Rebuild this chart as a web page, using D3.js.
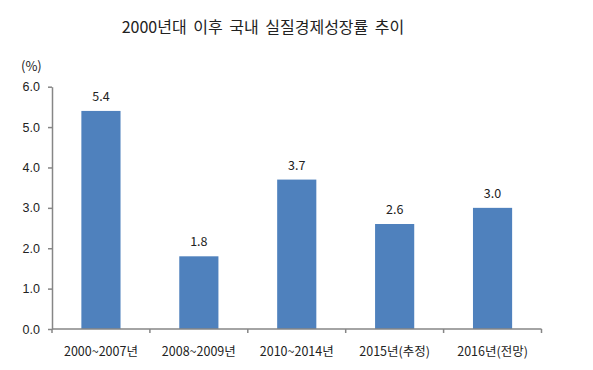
<!DOCTYPE html>
<html>
<head>
<meta charset="utf-8">
<script src="https://cdn.jsdelivr.net/npm/d3@7"></script>
<style>
  body { margin: 0; background: #fff; }
  svg { display: block; font-family: "Noto Sans CJK KR", "Noto Sans", sans-serif; }
</style>
</head>
<body>
<svg id="chart" width="593" height="370"></svg>
<script>
const categories = ['2000~2007년', '2008~2009년', '2010~2014년', '2015년(추정)', '2016년(전망)'];
const values = [5.4, 1.8, 3.7, 2.6, 3.0];
const yTicks = [0, 1, 2, 3, 4, 5, 6];

const svg = d3.select("#chart");

const plotLeft = 52, plotRight = 541.5, plotTop = 86.7, plotBottom = 329;

const x = d3.scaleBand()
  .domain(categories)
  .range([plotLeft, plotRight])
  .paddingInner(0.6)
  .paddingOuter(0.3);

const y = d3.scaleLinear()
  .domain([0, 6])
  .range([plotBottom, plotTop]);

// title
svg.append("text")
  .attr("x", 263)
  .attr("y", 33)
  .attr("text-anchor", "middle")
  .attr("font-size", 16)
  .attr("word-spacing", 3)
  .attr("fill", "#222")
  .text("2000년대 이후 국내 실질경제성장률 추이");

svg.append("text")
  .attr("x", 21)
  .attr("y", 71)
  .attr("font-size", 13)
  .attr("fill", "#222")
  .text("(%)");

// y axis
const yAxis = svg.append("g")
  .attr("transform", "translate(" + plotLeft + ",0)")
  .call(d3.axisLeft(y).tickValues(yTicks).tickFormat(d3.format(".1f")).tickSize(4).tickSizeOuter(0));
yAxis.select(".domain").attr("stroke", "#868686").attr("stroke-width", 1.5);
yAxis.selectAll(".tick line").attr("stroke", "#868686").attr("stroke-width", 1.5);
yAxis.selectAll(".tick text")
  .attr("font-size", 12.5)
  .attr("font-family", "inherit")
  .attr("fill", "#222")
  .attr("x", -12);

// bars
svg.append("g").selectAll("rect")
  .data(values)
  .join("rect")
  .attr("x", (d, i) => x(categories[i]))
  .attr("y", d => y(d))
  .attr("width", x.bandwidth())
  .attr("height", d => plotBottom - y(d))
  .attr("fill", "#4F81BD");

svg.append("g").selectAll("text")
  .data(values)
  .join("text")
  .attr("x", (d, i) => x(categories[i]) + x.bandwidth() / 2)
  .attr("y", d => y(d) - 10)
  .attr("text-anchor", "middle")
  .attr("font-size", 12.5)
  .attr("fill", "#222")
  .text(d => d3.format(".1f")(d));

// x axis
const xg = svg.append("g").attr("transform", "translate(0," + plotBottom + ")");
xg.append("line")
  .attr("x1", plotLeft).attr("x2", plotRight)
  .attr("stroke", "#868686")
  .attr("stroke-width", 1.5);
const step = x.step();
const edges = categories.map(c => x(c) - step * x.paddingInner() / 2).concat([plotRight]);
xg.selectAll(".edge")
  .data(edges)
  .join("line")
  .attr("class", "edge")
  .attr("x1", d => d).attr("x2", d => d)
  .attr("y1", 0).attr("y2", 4)
  .attr("stroke", "#868686")
  .attr("stroke-width", 1.5);
xg.selectAll(".lbl")
  .data(categories)
  .join("text")
  .attr("class", "lbl")
  .attr("x", d => x(d) + x.bandwidth() / 2)
  .attr("y", 27)
  .attr("text-anchor", "middle")
  .attr("font-size", 12.5)
  .attr("fill", "#222")
  .text(d => d);
</script>
</body>
</html>
